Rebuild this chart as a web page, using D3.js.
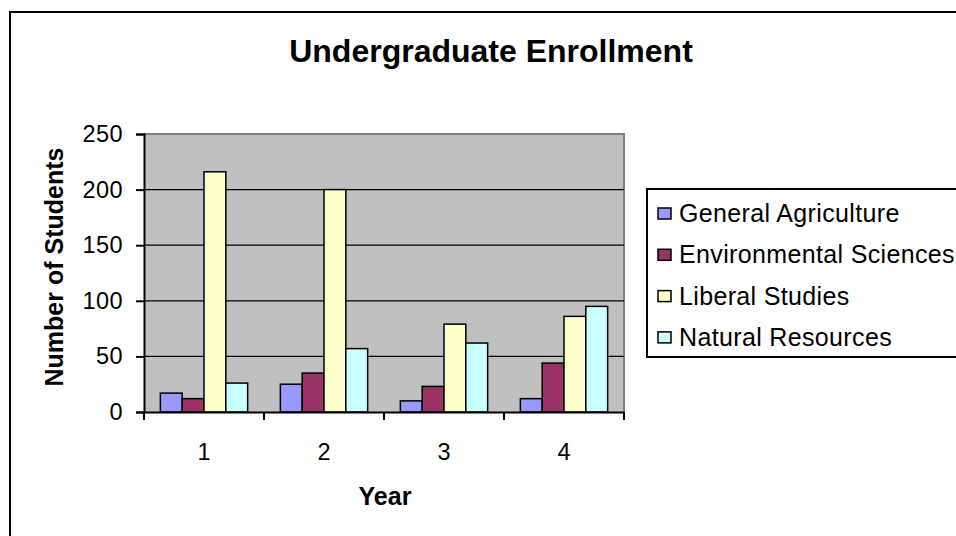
<!DOCTYPE html>
<html>
<head>
<meta charset="utf-8">
<title>Undergraduate Enrollment</title>
<style>
  body{ margin:0; background:#fff; }
  svg{ display:block; font-family:Arial, "Liberation Sans", sans-serif; }
</style>
</head>
<body>
<script src="https://cdn.jsdelivr.net/npm/d3@7"></script>
<script>
// data
var years = ['1', '2', '3', '4'];
var seriesNames = ['General Agriculture', 'Environmental Sciences', 'Liberal Studies', 'Natural Resources'];
var seriesColors = ['#9999ff', '#993366', '#ffffcc', '#ccffff'];
var genAg   = [17, 25, 10, 12];
var envSci  = [12, 35, 23, 44];
var libStud = [216, 200, 79, 86];
var natRes  = [26, 57, 62, 95];
var yTicks  = [0, 50, 100, 150, 200, 250];

var values = [genAg, envSci, libStud, natRes];
var rows = years.map(function(yr, i){
  return { year: yr, vals: seriesNames.map(function(s, k){ return { name: s, v: values[k][i], k: k }; }) };
});

var W = 956, H = 536;
var plot = { l: 144, t: 134, r: 624, b: 412 };

var svg = d3.select('body').append('svg').attr('width', W).attr('height', H);

// outer frame (runs off the right and bottom)
svg.append('rect').attr('x', 10).attr('y', 12).attr('width', 980).attr('height', 560)
  .attr('fill', 'none').attr('stroke', '#000').attr('stroke-width', 2);

var x = d3.scaleBand().domain(years).range([plot.l, plot.r]);
var x1 = d3.scaleBand().domain(seriesNames).range([0, x.bandwidth()]).paddingOuter(0.75).paddingInner(0);
var y = d3.scaleLinear().domain([0, 250]).range([plot.b, plot.t]);

// plot background
svg.append('rect').attr('x', plot.l).attr('y', plot.t)
  .attr('width', plot.r - plot.l).attr('height', plot.b - plot.t)
  .attr('fill', '#c0c0c0');
svg.append('path')
  .attr('d', 'M' + plot.l + ',' + y(250) + 'H' + plot.r + 'V' + plot.b)
  .attr('fill', 'none').attr('stroke', '#808080').attr('stroke-width', 2);

// gridlines
svg.append('g').selectAll('line').data(yTicks.filter(function(d){ return d > 0 && d < 250; }))
  .enter().append('line')
  .attr('x1', plot.l).attr('x2', plot.r)
  .attr('y1', function(d){ return y(d); }).attr('y2', function(d){ return y(d); })
  .attr('stroke', '#000').attr('stroke-width', 1.2);

// bars
var groups = svg.append('g').selectAll('g').data(rows).enter().append('g')
  .attr('transform', function(d){ return 'translate(' + x(d.year) + ',0)'; });
groups.selectAll('rect').data(function(d){ return d.vals; }).enter().append('rect')
  .attr('x', function(d){ return x1(d.name); })
  .attr('y', function(d){ return y(d.v); })
  .attr('width', x1.bandwidth())
  .attr('height', function(d){ return y(0) - y(d.v); })
  .attr('fill', function(d){ return seriesColors[d.k]; })
  .attr('stroke', '#000').attr('stroke-width', 1.5);

// y axis
var yAxis = svg.append('g').attr('transform', 'translate(' + plot.l + ',0)')
  .call(d3.axisLeft(y).tickValues(yTicks).tickSize(8).tickPadding(13));
yAxis.select('.domain').attr('stroke-width', 2);
yAxis.selectAll('.tick line').attr('stroke-width', 2);
yAxis.selectAll('text').attr('font-size', 23.5).attr('fill', '#000').attr('letter-spacing', 0.4)
  .attr('font-family', 'Arial, "Liberation Sans", sans-serif');

// x axis: labels centred, ticks on the category boundaries
var xAxis = svg.append('g').attr('transform', 'translate(0,' + plot.b + ')')
  .call(d3.axisBottom(x).tickSizeInner(0).tickSizeOuter(0).tickPadding(31));
xAxis.select('.domain').attr('stroke-width', 2);
xAxis.selectAll('text').attr('font-size', 23.5).attr('fill', '#000')
  .attr('font-family', 'Arial, "Liberation Sans", sans-serif');
var edges = years.map(function(d){ return x(d); }).concat([x(years[years.length - 1]) + x.bandwidth()]);
xAxis.selectAll('line.edge').data(edges).enter().append('line').attr('class', 'edge')
  .attr('x1', function(d){ return d; }).attr('x2', function(d){ return d; })
  .attr('y1', 0).attr('y2', 8).attr('stroke', '#000').attr('stroke-width', 2);

// titles
svg.append('text').attr('x', 491).attr('y', 62).attr('text-anchor', 'middle')
  .attr('font-size', 32).attr('font-weight', 'bold').text('Undergraduate Enrollment');
svg.append('text').attr('x', 385).attr('y', 505).attr('text-anchor', 'middle')
  .attr('font-size', 25).attr('font-weight', 'bold').text('Year');
svg.append('text').attr('transform', 'translate(63,267) rotate(-90)').attr('text-anchor', 'middle')
  .attr('font-size', 25).attr('font-weight', 'bold').text('Number of Students');

// legend
var lg = svg.append('g');
lg.append('rect').attr('x', 647).attr('y', 189).attr('width', 340).attr('height', 168)
  .attr('fill', '#fff').attr('stroke', '#000').attr('stroke-width', 2);
var items = lg.selectAll('g.item').data(seriesNames).enter().append('g').attr('class', 'item')
  .attr('transform', function(d, i){ return 'translate(0,' + (222 + i * 41.3) + ')'; });
items.append('rect').attr('x', 658).attr('y', -14).attr('width', 13).attr('height', 11)
  .attr('fill', function(d, i){ return seriesColors[i]; })
  .attr('stroke', '#000').attr('stroke-width', 1.5);
items.append('text').attr('x', 679).attr('y', 0).attr('font-size', 25).attr('letter-spacing', 0.35)
  .text(function(d){ return d; });
</script>
</body>
</html>
